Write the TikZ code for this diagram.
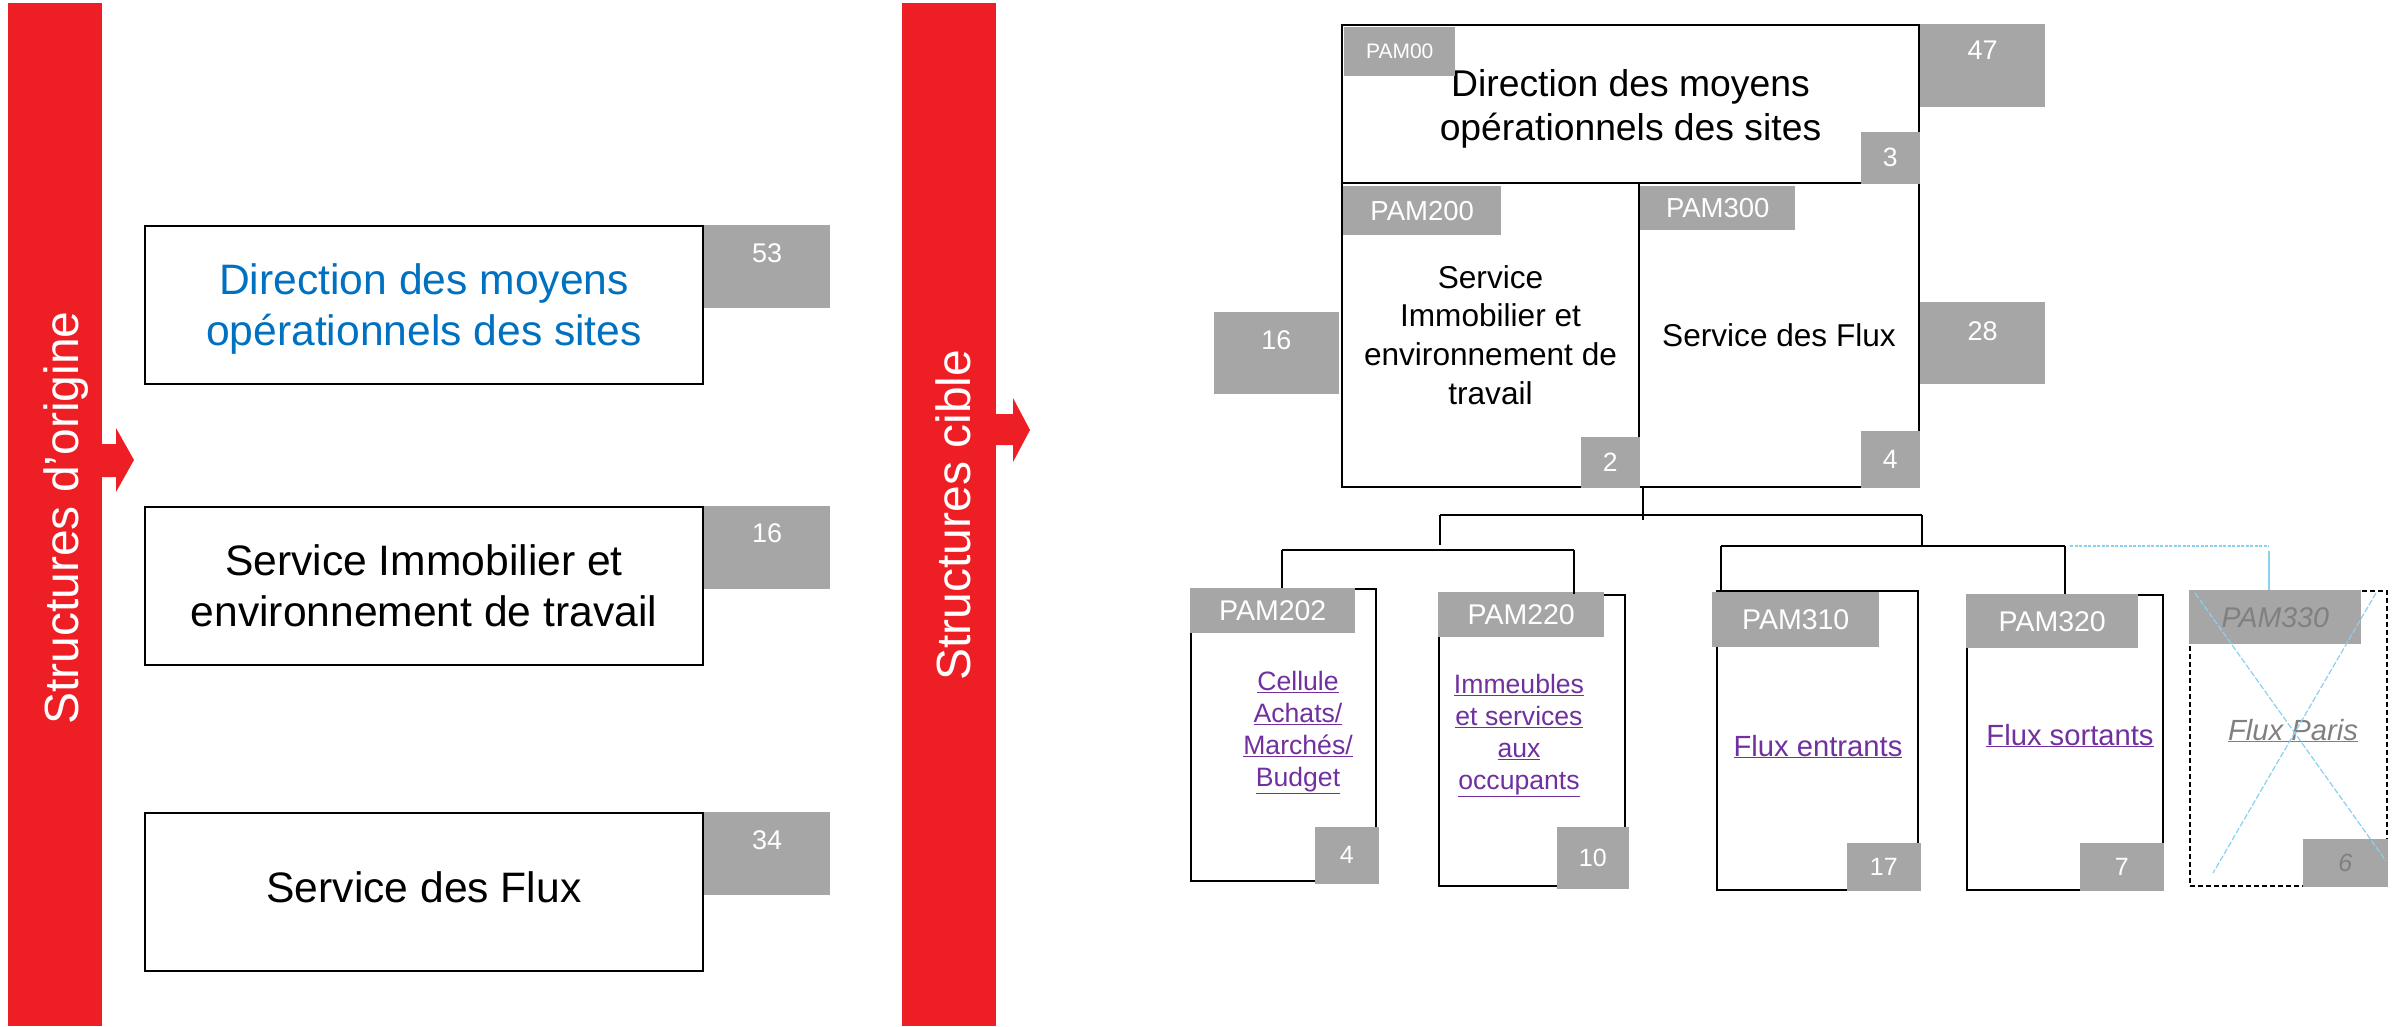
\documentclass[tikz,border=0pt]{standalone}
\usepackage{fontspec}
\setmainfont{Liberation Sans}
\definecolor{barred}{RGB}{237,30,36}
\definecolor{tagfill}{RGB}{166,166,166}
\definecolor{sitesblue}{RGB}{0,112,192}
\definecolor{linkpurple}{RGB}{112,48,160}
\definecolor{ghostblue}{RGB}{140,208,240}
\definecolor{ghostgrey}{RGB}{128,128,128}
\newcommand{\pxfont}[2]{\fontsize{#1}{#2}\selectfont}

\begin{document}
\begin{tikzpicture}[x=1pt,y=-1pt,
    bar/.style={fill=barred,inner sep=0,minimum width=94pt,minimum height=1023pt},
    bartext/.style={rotate=90,anchor=base,text=white,inner sep=0,font=\pxfont{48}{58}},
    obox/.style={draw,line width=2pt,inner sep=0,minimum width=558pt,minimum height=158pt,align=center,font=\pxfont{42.6}{51}},
    rbox/.style={draw,line width=2pt,inner sep=0,align=center},
    cbox/.style={draw,line width=2pt,inner sep=0},
    tag/.style={fill=tagfill,text=white,inner sep=0},
    ptag/.style={tag,anchor=north west,font=\pxfont{28.5}{34}},
    btag/.style={tag,anchor=south east,font=\pxfont{25}{30}},
    numtop/.style={anchor=north,text=white,inner sep=0,font=\pxfont{27}{32}},
    ltext/.style={text=linkpurple,inner sep=0,align=center,font=\pxfont{26.6}{32}},
    link/.style={line width=1.4pt},
    ghost/.style={ghostblue,line width=1.5pt}]
      \useasboundingbox (0,0) rectangle (2407,1026) ;
      \node[bar] (barorig) at (55,514.5) {} ;
      \node[bar] (barcible) at (949,514.5) {} ;
      \fill[barred] (102,444) -- (116,444) -- (116,428) -- (134,460) -- (116,492) -- (116,477) -- (102,477) -- cycle ;
      \fill[barred] (996,414) -- (1013,414) -- (1013,398) -- (1030,430) -- (1013,462) -- (1013,445) -- (996,445) -- cycle ;
      \node[bartext] (torig) at (78,518) {Structures d’origine} ;
      \node[bartext] (tcible) at (970,515) {Structures cible} ;
      % structures d'origine
      \node[obox,text=sitesblue] (o1) at (424,305) {\rule{0pt}{39pt}Direction des moyens\\opérationnels des sites} ;
      \node[obox] (o2) at (424,585.5) {Service Immobilier et\\environnement de travail} ;
      \node[obox] (o3) at (424,892) {Service des Flux\rule[-9pt]{0pt}{0pt}} ;
      \node[tag,anchor=north west,minimum width=126pt,minimum height=83pt] (g53) at (o1.north east) {} ;
      \node[numtop] (n53) at ([yshift=-18pt]g53.north) {53} ;
      \node[tag,anchor=north west,minimum width=126pt,minimum height=83pt] (g16o) at (o2.north east) {} ;
      \node[numtop] (n16o) at ([yshift=-18pt]g16o.north) {16} ;
      \node[tag,anchor=north west,minimum width=126pt,minimum height=83pt] (g34) at (o3.north east) {} ;
      \node[numtop] (n34) at ([yshift=-18pt]g34.north) {34} ;
      % structures cible
      \node[rbox,minimum width=577pt,minimum height=158pt,font=\pxfont{37.3}{43.5}] (p00) at (1630.5,104) {\rule{0pt}{37pt}Direction des moyens\\opérationnels des sites} ;
      \node[rbox,minimum width=297pt,minimum height=304pt,font=\pxfont{31.6}{38.7}] (p200) at (1490.5,335) {Service\\Immobilier et\\environnement de\\travail} ;
      \node[rbox,minimum width=280pt,minimum height=304pt,font=\pxfont{31.6}{38.7}] (p300) at (1779,335) {Service des Flux} ;
      \node[tag,anchor=north west,minimum width=111pt,minimum height=49pt,font=\pxfont{21}{25}] (t00) at ([xshift=3pt,yshift=-3pt]p00.north west) {PAM00} ;
      \node[tag,anchor=north west,minimum width=158pt,minimum height=49pt,font=\pxfont{27.5}{32}] (t200) at ([xshift=2pt,yshift=-4pt]p200.north west) {PAM200} ;
      \node[tag,anchor=north west,minimum width=155pt,minimum height=44pt,font=\pxfont{27.5}{32}] (t300) at ([xshift=2pt,yshift=-4pt]p300.north west) {PAM300} ;
      \node[tag,anchor=north west,minimum width=125pt,minimum height=83pt] (g47) at (p00.north east) {} ;
      \node[numtop] (n47) at ([yshift=-17pt]g47.north) {47} ;
      \node[tag,anchor=south east,minimum width=59pt,minimum height=52pt,font=\pxfont{26.5}{32}] (n3) at (p00.south east) {3} ;
      \node[tag,anchor=east,minimum width=125pt,minimum height=82pt] (g16) at ([xshift=-2pt,yshift=-18pt]p200.west) {} ;
      \node[numtop] (n16) at ([yshift=-19pt]g16.north) {16} ;
      \node[tag,anchor=south east,minimum width=59pt,minimum height=51pt,font=\pxfont{26.5}{32}] (n2) at (p200.south east) {2} ;
      \node[tag,anchor=west,minimum width=125pt,minimum height=82pt] (g28) at ([yshift=-8pt]p300.east) {} ;
      \node[numtop] (n28) at ([yshift=-20pt]g28.north) {28} ;
      \node[tag,anchor=south east,minimum width=59pt,minimum height=57pt,font=\pxfont{26.5}{32}] (n4) at (p300.south east) {4} ;
      % cellules
      \node[cbox,minimum width=185pt,minimum height=292pt] (p202) at (1283.5,735) {} ;
      \node[cbox,minimum width=186pt,minimum height=291pt] (p220) at (1532,740.5) {} ;
      \node[cbox,minimum width=201pt,minimum height=299pt] (p310) at (1817.5,740.5) {} ;
      \node[cbox,minimum width=196pt,minimum height=295pt] (p320) at (2065,742.5) {} ;
      \node[cbox,dash pattern=on 5pt off 3pt,line width=1.8pt,minimum width=197pt,minimum height=295pt] (p330) at (2288.5,738.5) {} ;
      \node[ptag,minimum width=165pt,minimum height=45pt] (t202) at (p202.north west) {PAM202} ;
      \node[ptag,minimum width=166pt,minimum height=45pt] (t220) at ([yshift=2pt]p220.north west) {PAM220} ;
      \node[ptag,minimum width=167pt,minimum height=55pt] (t310) at ([xshift=-4pt,yshift=-2pt]p310.north west) {PAM310} ;
      \node[ptag,minimum width=172pt,minimum height=54pt] (t320) at (p320.north west) {PAM320} ;
      \node[ptag,minimum width=172pt,minimum height=54pt,text=ghostgrey,font=\pxfont{28.5}{34}\itshape] (t330) at (p330.north west) {PAM330} ;
      \node[btag,minimum width=64pt,minimum height=57pt] (n202) at ([xshift=2pt,yshift=-2pt]p202.south east) {4} ;
      \node[btag,minimum width=72pt,minimum height=62pt] (n220) at ([xshift=3pt,yshift=-2pt]p220.south east) {10} ;
      \node[btag,minimum width=74pt,minimum height=48pt] (n310) at ([xshift=2pt]p310.south east) {17} ;
      \node[btag,minimum width=84pt,minimum height=48pt] (n320) at (p320.south east) {7} ;
      \node[btag,minimum width=85pt,minimum height=48pt,text=ghostgrey,font=\pxfont{25}{30}\itshape] (n330) at (p330.south east) {6} ;
      \node[ltext,anchor=north] (l202) at (1298,671) {\underline{Cellule}\\\underline{Achats/}\\\underline{Marchés/}\\\underline{Budget}} ;
      \node[ltext,anchor=north] (l220) at (1519,674) {\underline{Immeubles}\\\underline{et services}\\\underline{aux}\\\underline{occupants}} ;
      \node[ltext,anchor=base,font=\pxfont{29.2}{35}] (l310) at (1818,756) {\underline{Flux entrants}} ;
      \node[ltext,anchor=base,font=\pxfont{29.2}{35}] (l320) at (2070,745) {\underline{Flux sortants}} ;
      \node[ltext,anchor=base,text=ghostgrey,font=\pxfont{29.2}{35}\itshape] (l330) at (2293,740) {\underline{Flux Paris}} ;
      % liaisons
      \coordinate (b1w) at (1440,515) ;
      \coordinate (b1e) at (1922,515) ;
      \coordinate (b2w) at (1282,550) ;
      \coordinate (b2e) at (1574,550) ;
      \coordinate (b3w) at (1721,546) ;
      \coordinate (b3e) at (2065,546) ;
      \coordinate (b3x) at (2269,546) ;
      \draw[link] ([xshift=3pt]p200.south east) -- ++(0,32) ;
      \draw[link] (b1w) -- (b1e) ;
      \draw[link] (b1w) -- ++(0,30) ;
      \draw[link] (b2w) -- (b2e) ;
      \draw[link] (b2w) -- (b2w |- p202.north) ;
      \draw[link] (b2e) -- (b2e |- p220.north) ;
      \draw[link] (b1e) -- (b1e |- b3w) ;
      \draw[link] (b3w) -- (b3e) ;
      \draw[link] (b3w) -- (b3w |- p310.north) ;
      \draw[link] (b3e) -- (b3e |- p320.north) ;
      \draw[ghost,dash pattern=on 3pt off 1.5pt] ([xshift=5pt]b3e) -- (b3x) ;
      \draw[ghost] ([yshift=-5pt]b3x) -- (b3x |- p330.north) ;
      \draw[ghost,line width=1.2pt,dash pattern=on 6pt off 2pt] (2195,593) -- (2386,861) ;
      \draw[ghost,line width=1.2pt,dash pattern=on 6pt off 2pt] (2376,593) -- (2213,873) ;
    \end{tikzpicture}
\end{document}
